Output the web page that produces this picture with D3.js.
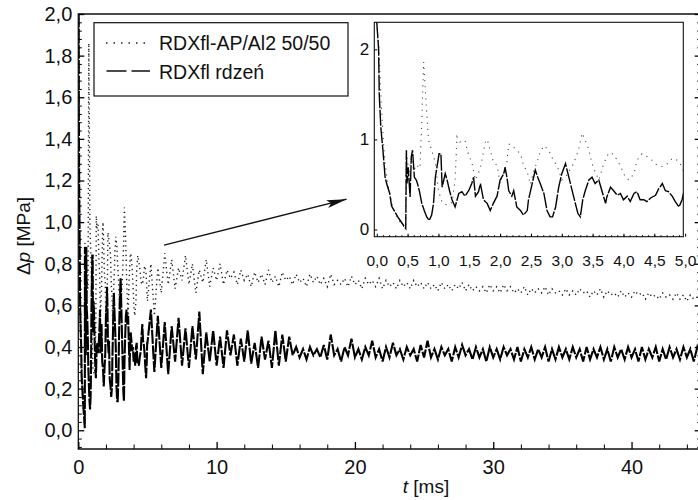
<html>
<script src="https://d3js.org/d3.v7.min.js"></script>
<style>
body { margin: 0; background: #fff; }
text { font-family: "Liberation Sans", Arial, Helvetica, sans-serif; fill: #111; }
</style>
<body>
<svg width=698 height=500></svg>
<script>
// 0-5 ms (the main plot uses the same samples)
var coreT = [0.00,0.03,0.04,0.065,0.10,0.135,0.16,0.21,0.24,0.29,0.34,0.38,0.43,0.47,0.48,0.49,0.51,0.54,0.56,0.58,
  0.61,0.64,0.66,0.69,0.73,0.77,0.81,0.85,0.89,0.92,0.95,1.01,1.04,1.06,1.11,1.14,1.18,1.22,1.27,1.33,
  1.38,1.43,1.49,1.54,1.57,1.60,1.65,1.68,1.73,1.79,1.84,1.89,1.95,2.00,2.06,2.08,2.11,2.14,2.19,2.22,
  2.27,2.33,2.38,2.44,2.46,2.52,2.57,2.61,2.65,2.71,2.76,2.81,2.85,2.90,2.95,3.00,3.06,3.10,3.14,3.19,
  3.26,3.30,3.34,3.38,3.44,3.49,3.54,3.60,3.65,3.71,3.73,3.79,3.84,3.90,3.95,4.00,4.06,4.11,4.17,4.22,
  4.27,4.33,4.38,4.44,4.52,4.57,4.63,4.68,4.73,4.79,4.84,4.90,4.95,4.98];
var coreV = [2.30,2.00,1.51,1.14,0.88,0.58,0.51,0.40,0.26,0.20,0.14,0.10,0.05,0.01,0.88,0.51,0.69,0.36,0.81,0.88,
  0.58,0.55,0.51,0.43,0.29,0.21,0.14,0.10,0.16,0.29,0.58,0.84,0.84,0.47,0.62,0.55,0.43,0.33,0.25,0.40,
  0.42,0.37,0.43,0.51,0.58,0.37,0.42,0.51,0.33,0.29,0.21,0.29,0.37,0.55,0.62,0.69,0.58,0.43,0.37,0.43,
  0.25,0.21,0.16,0.21,0.33,0.51,0.66,0.58,0.51,0.40,0.21,0.14,0.14,0.25,0.47,0.62,0.73,0.62,0.51,0.37,
  0.18,0.14,0.33,0.43,0.55,0.58,0.51,0.55,0.43,0.29,0.36,0.47,0.43,0.38,0.40,0.33,0.37,0.31,0.40,0.42,
  0.33,0.33,0.31,0.35,0.38,0.45,0.51,0.43,0.42,0.37,0.31,0.25,0.33,0.42];
var mixT = [0.00,0.03,0.05,0.08,0.11,0.14,0.18,0.24,0.30,0.36,0.42,0.47,0.48,0.52,0.56,0.60,0.64,0.70,0.73,0.76,
  0.80,0.84,0.89,0.95,1.00,1.06,1.14,1.22,1.27,1.30,1.35,1.43,1.49,1.54,1.60,1.68,1.76,1.79,1.84,1.89,
  1.95,2.00,2.11,2.14,2.19,2.27,2.33,2.38,2.44,2.49,2.54,2.60,2.65,2.71,2.79,2.84,2.90,2.95,3.00,3.08,
  3.19,3.27,3.33,3.38,3.44,3.49,3.54,3.60,3.68,3.76,3.82,3.90,3.98,4.03,4.09,4.17,4.22,4.30,4.38,4.46,
  4.55,4.63,4.71,4.79,4.87,4.92,4.98];
var mixV = [2.30,2.05,1.75,1.30,0.95,0.70,0.50,0.30,0.18,0.10,0.04,0.02,0.90,0.62,0.80,0.65,0.72,0.68,1.20,1.86,
  1.40,0.99,0.88,0.74,0.43,0.30,0.27,0.30,0.55,1.03,0.97,0.99,0.82,0.75,0.55,0.68,0.97,1.00,0.88,0.75,
  0.71,0.51,0.75,0.95,0.93,0.88,0.84,0.71,0.64,0.50,0.64,0.75,0.86,0.93,0.88,0.80,0.73,0.66,0.55,0.60,
  0.73,0.88,1.07,0.99,0.88,0.73,0.64,0.55,0.73,0.85,0.84,0.77,0.66,0.58,0.55,0.62,0.77,0.84,0.81,0.77,
  0.71,0.70,0.73,0.79,0.77,0.73,0.64];

// 5-45 ms, one reading every 0.25 ms
var tailStart = 5, tailStep = 0.25;
var coreTail = [0.42,0.58,0.28,0.55,0.30,0.52,0.27,0.50,0.33,0.54,0.31,0.49,0.30,0.50,0.34,0.57,0.27,0.47,0.33,0.48,0.31,0.45,0.30,0.48,0.36,
  0.46,0.31,0.44,0.33,0.48,0.32,0.42,0.30, 0.45,0.34,0.43,0.30,0.48,0.31,0.46,0.33,
  0.45,0.36,0.40,0.35,0.39,0.34,0.40,0.36, 0.39,0.35,0.41,0.34,0.46,0.36,0.39,0.33,
  0.40,0.36,0.44,0.35,0.39,0.34,0.40,0.36, 0.43,0.35,0.39,0.33,0.40,0.35,0.42,0.36,
  0.39,0.34,0.40,0.36,0.39,0.33,0.41,0.35, 0.43,0.35,0.39,0.34,0.40,0.36,0.39,0.33,
  0.40,0.35,0.41,0.36,0.39,0.34,0.40,0.35, 0.39,0.33,0.40,0.35,0.39,0.34,0.40,0.36,
  0.39,0.34,0.40,0.33,0.39,0.35,0.40,0.34, 0.39,0.35,0.40,0.33,0.39,0.34,0.40,0.35,
  0.39,0.34,0.40,0.35,0.39,0.33,0.40,0.34, 0.39,0.35,0.40,0.34,0.39,0.33,0.40,0.35,
  0.39,0.34,0.40,0.35,0.39,0.33,0.40,0.34, 0.39,0.35,0.40,0.33,0.39,0.34,0.40,0.35,
  0.39,0.34,0.40,0.35,0.39,0.33,0.40,0.35];
var mixTail = [0.62,0.80,0.55,0.78,0.66,0.85,0.70,0.82,0.68,0.78,0.72,0.84,0.70,0.80,0.66,0.77,0.71,0.82,0.69,0.78,0.72,0.80,0.70,0.77,0.73,
  0.76,0.70,0.77,0.72,0.75,0.69,0.76,0.71, 0.75,0.70,0.77,0.71,0.74,0.69,0.76,0.72,
  0.74,0.70,0.75,0.71,0.73,0.69,0.75,0.71, 0.74,0.70,0.73,0.69,0.75,0.70,0.72,0.70,
  0.73,0.69,0.74,0.70,0.72,0.68,0.73,0.70, 0.72,0.69,0.73,0.68,0.72,0.69,0.71,0.68,
  0.72,0.69,0.71,0.68,0.72,0.69,0.71,0.68, 0.71,0.68,0.70,0.67,0.71,0.68,0.70,0.67,
  0.70,0.68,0.71,0.67,0.70,0.67,0.69,0.67, 0.69,0.66,0.70,0.67,0.69,0.66,0.70,0.67,
  0.69,0.66,0.68,0.66,0.69,0.65,0.68,0.66, 0.68,0.66,0.69,0.65,0.68,0.66,0.67,0.65,
  0.68,0.65,0.67,0.65,0.68,0.66,0.67,0.64, 0.67,0.65,0.68,0.64,0.67,0.65,0.66,0.64,
  0.67,0.64,0.66,0.64,0.67,0.65,0.66,0.63, 0.66,0.64,0.65,0.63,0.66,0.64,0.65,0.63,
  0.66,0.63,0.65,0.62,0.65,0.63,0.64,0.62];

var seriesNames = ["RDXfl-AP/Al2 50/50", "RDXfl rdze\u0144"];
var mainXTicks = [0, 10, 20, 30, 40];
var mainYTicks = [0, 0.2, 0.4, 0.6, 0.8, 1.0, 1.2, 1.4, 1.6, 1.8, 2.0];
var insetXTicks = [0, 0.5, 1.0, 1.5, 2.0, 2.5, 3.0, 3.5, 4.0, 4.5, 5.0];
var insetYTicks = [0, 1, 2];

var fmt = d3.formatLocale({decimal: ",", thousands: ".", grouping: [3], currency: ["", ""]}).format(".1f");

var svg = d3.select("svg");

// pair the readings up
var coreIn = coreT.map(function (t, i) { return [t, coreV[i]]; });
var mixIn = mixT.map(function (t, i) { return [t, mixV[i]]; });
var core = coreIn.concat(coreTail.map(function (v, i) { return [tailStart + i * tailStep, v]; }));
var mix = mixIn.concat(mixTail.map(function (v, i) { return [tailStart + i * tailStep, v]; }));

// ---- main plot
var x = d3.scaleLinear().domain([0, 45]).range([78.3, 700.7]);
var y = d3.scaleLinear().domain([-0.09, 2.0]).range([449, 14]);

svg.append("clipPath").attr("id", "mainClip")
  .append("rect").attr("x", 78.3).attr("y", 14).attr("width", 622).attr("height", 435);

var line = d3.line().x(function (d) { return x(d[0]); }).y(function (d) { return y(d[1]); });

svg.append("path").datum(mix)
  .attr("clip-path", "url(#mainClip)")
  .attr("d", line)
  .attr("fill", "none").attr("stroke", "#222").attr("stroke-width", 1.4)
  .attr("stroke-dasharray", "1.3,3.5");

svg.append("path").datum(core)
  .attr("clip-path", "url(#mainClip)")
  .attr("d", line)
  .attr("fill", "none").attr("stroke", "#000").attr("stroke-width", 2.1)
  .attr("stroke-dasharray", "14,1.5");

// frame
svg.append("path")
  .attr("d", "M" + x(0) + "," + y(-0.09) + "V" + y(2.0) + "H" + x(45) + "V" + y(-0.09) + "Z")
  .attr("fill", "none").attr("stroke", "#111").attr("stroke-width", 1.3);

var yMinor = d3.range(-0.08, 2.001, 0.04).filter(function (v) { return Math.abs(v * 5 - Math.round(v * 5)) > 0.01; });
var xMinor = d3.range(2, 45, 2).filter(function (v) { return v % 10 != 0; });

svg.append("g").attr("transform", "translate(" + x(0) + ",0)")
  .call(d3.axisLeft(y).tickValues(mainYTicks).tickFormat(fmt).tickSizeInner(-6).tickSizeOuter(0).tickPadding(6))
  .call(function (g) { g.select(".domain").remove(); g.selectAll("text").style("font-size", "20px"); g.selectAll("line").attr("stroke-width", 1.3); });
svg.append("g").attr("transform", "translate(" + x(0) + ",0)")
  .call(d3.axisLeft(y).tickValues(yMinor).tickFormat("").tickSizeInner(-3.5).tickSizeOuter(0))
  .call(function (g) { g.select(".domain").remove(); });

svg.append("g").attr("transform", "translate(" + x(45) + ",0)")
  .call(d3.axisRight(y).tickValues(mainYTicks).tickFormat("").tickSizeInner(-6).tickSizeOuter(0))
  .call(function (g) { g.select(".domain").remove(); g.selectAll("line").attr("stroke-width", 1.3); });
svg.append("g").attr("transform", "translate(" + x(45) + ",0)")
  .call(d3.axisRight(y).tickValues(yMinor).tickFormat("").tickSizeInner(-3.5).tickSizeOuter(0))
  .call(function (g) { g.select(".domain").remove(); });

svg.append("g").attr("transform", "translate(0," + y(-0.09) + ")")
  .call(d3.axisBottom(x).tickValues(mainXTicks).tickFormat(d3.format("d")).tickSizeInner(-7).tickSizeOuter(0).tickPadding(11))
  .call(function (g) { g.select(".domain").remove(); g.selectAll("text").style("font-size", "20px"); g.selectAll("line").attr("stroke-width", 1.3); });
svg.append("g").attr("transform", "translate(0," + y(-0.09) + ")")
  .call(d3.axisBottom(x).tickValues(xMinor).tickFormat("").tickSizeInner(-4.5).tickSizeOuter(0))
  .call(function (g) { g.select(".domain").remove(); });

// axis titles
var xt = svg.append("text").attr("x", 426).attr("y", 493).attr("text-anchor", "middle").style("font-size", "19px");
xt.append("tspan").style("font-style", "italic").text("t");
xt.append("tspan").text(" [ms]");

var yt = svg.append("text").attr("transform", "translate(30,236) rotate(-90)").attr("text-anchor", "middle").style("font-size", "19px");
yt.append("tspan").text("\u0394");
yt.append("tspan").style("font-style", "italic").text("p");
yt.append("tspan").text(" [MPa]");

// legend
svg.append("rect").attr("x", 94).attr("y", 22.7).attr("width", 254).attr("height", 73.3)
  .attr("fill", "#fff").attr("stroke", "#111").attr("stroke-width", 1.2);
svg.append("line").attr("x1", 106).attr("x2", 151).attr("y1", 43).attr("y2", 43)
  .attr("stroke", "#222").attr("stroke-width", 1.6).attr("stroke-dasharray", "1.5,6");
svg.append("line").attr("x1", 106.5).attr("x2", 150).attr("y1", 71).attr("y2", 71)
  .attr("stroke", "#111").attr("stroke-width", 1.4).attr("stroke-dasharray", "20,5");
svg.selectAll(".legtext").data(seriesNames).enter().append("text")
  .attr("class", "legtext")
  .attr("x", 159).attr("y", function (d, i) { return 50 + i * 28.5; })
  .style("font-size", "19.5px")
  .text(function (d) { return d; });

// arrow toward the inset
svg.append("defs").append("marker").attr("id", "head")
  .attr("viewBox", "0 0 20 8").attr("refX", 20).attr("refY", 4)
  .attr("markerWidth", 20).attr("markerHeight", 8).attr("markerUnits", "userSpaceOnUse").attr("orient", "auto")
  .append("path").attr("d", "M0,0L20,4L0,8L4,4Z").attr("fill", "#111");
svg.append("line")
  .attr("x1", x(6.2)).attr("y1", y(0.89)).attr("x2", x(19.4)).attr("y2", y(1.11))
  .attr("stroke", "#111").attr("stroke-width", 1.3).attr("marker-end", "url(#head)");

// ---- inset
var ix = d3.scaleLinear().domain([-0.04, 4.97]).range([374.3, 683.3]);
var iy = d3.scaleLinear().domain([-0.08, 2.3]).range([236.7, 22.3]);

svg.append("rect").attr("x", 374.3).attr("y", 22.3).attr("width", 309).attr("height", 214.4)
  .attr("fill", "#fff");
svg.append("clipPath").attr("id", "insetClip")
  .append("rect").attr("x", 374.3).attr("y", 22.3).attr("width", 309).attr("height", 214.4);

var iline = d3.line().x(function (d) { return ix(d[0]); }).y(function (d) { return iy(d[1]); });

svg.append("path").datum(mixIn)
  .attr("clip-path", "url(#insetClip)")
  .attr("d", iline)
  .attr("fill", "none").attr("stroke", "#444").attr("stroke-width", 1.1)
  .attr("stroke-dasharray", "1.1,5");
svg.append("path").datum(coreIn)
  .attr("clip-path", "url(#insetClip)")
  .attr("d", iline)
  .attr("fill", "none").attr("stroke", "#000").attr("stroke-width", 1.4)
  .attr("stroke-dasharray", "16,1.5");

svg.append("rect").attr("x", 374.3).attr("y", 22.3).attr("width", 309).attr("height", 214.4)
  .attr("fill", "none").attr("stroke", "#111").attr("stroke-width", 1.1);

svg.append("g").attr("transform", "translate(374.3,0)")
  .call(d3.axisLeft(iy).tickValues(insetYTicks).tickFormat(d3.format("d")).tickSizeInner(-3).tickSizeOuter(0).tickPadding(5))
  .call(function (g) { g.select(".domain").remove(); g.selectAll("text").style("font-size", "17px"); });

svg.append("g").attr("transform", "translate(0,236.7)")
  .call(d3.axisBottom(ix).tickValues(insetXTicks).tickFormat(fmt).tickSizeInner(-3).tickSizeOuter(0).tickPadding(18))
  .call(function (g) { g.select(".domain").remove(); g.selectAll("text").style("font-size", "15.5px"); });
svg.append("g").attr("transform", "translate(0,236.7)")
  .call(d3.axisBottom(ix).tickValues(d3.range(0.1, 4.95, 0.1)).tickFormat("").tickSizeInner(-1.5).tickSizeOuter(0))
  .call(function (g) { g.select(".domain").remove(); });
</script>
</body>
</html>
